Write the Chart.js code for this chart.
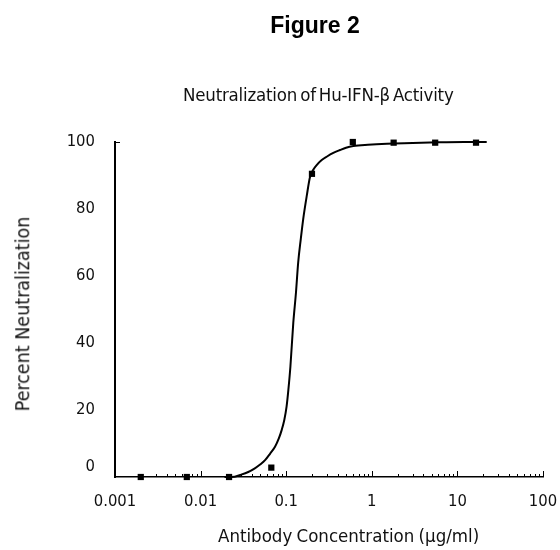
<!DOCTYPE html>
<html>
<head>
<meta charset="utf-8">
<script src="https://cdn.jsdelivr.net/npm/chart.js@4.4.0/dist/chart.umd.min.js"></script>
<style>
html,body{margin:0;padding:0;background:#fff;}
#wrap{position:relative;width:560px;height:550px;overflow:hidden;}
#c{position:absolute;left:0;top:0;}
.t{position:absolute;white-space:nowrap;color:#111;font-family:"DejaVu Sans Condensed","DejaVu Sans",sans-serif;}
#fig{left:215px;width:200px;top:14px;text-align:center;font:bold 23px "Liberation Sans",Arial,sans-serif;color:#000;line-height:23px;}
#title{left:183px;top:85px;font-size:18.5px;line-height:19px;word-spacing:-2px;letter-spacing:-0.2px;}
#ytitle{left:22.5px;top:313.5px;font-size:19.5px;line-height:19.5px;transform:translate(-50%,-50%) rotate(-90deg);}
#xtitle{left:218px;top:527px;font-size:18.5px;line-height:18px;word-spacing:-1px;}
</style>
</head>
<body>
<div id="wrap">
<canvas id="c" width="560" height="550"></canvas>
<div class="t" id="fig">Figure 2</div>
<div class="t" id="title">Neutralization of Hu-IFN-β Activity</div>
<div class="t" id="ytitle">Percent Neutralization</div>
<div class="t" id="xtitle">Antibody Concentration (µg/ml)</div>
</div>
<script>
// Measured data points
const concentrations = [0.002, 0.0069, 0.0215, 0.067, 0.2, 0.6, 1.8, 5.5, 16.5];
const neutralization = [0, 0, 0, 2.8, 90.5, 100, 99.8, 99.8, 99.8];

// Fitted curve
const fitX = [0.019, 0.025, 0.029, 0.036, 0.043, 0.05, 0.057, 0.065, 0.074, 0.082, 0.0885, 0.095, 0.101, 0.106, 0.112, 0.121, 0.13, 0.138, 0.148, 0.158, 0.174, 0.19, 0.207, 0.227, 0.26, 0.297, 0.36, 0.425, 0.5, 0.608, 0.9, 1.5, 3, 6, 12, 22];
const fitY = [0, 0.1, 0.6, 1.5, 2.6, 3.8, 5.1, 7, 9, 11.5, 14, 17, 21, 26, 33, 46, 55, 64, 71, 77, 84, 89.6, 91.7, 93.1, 94.6, 95.6, 96.8, 97.6, 98.3, 98.8, 99.2, 99.5, 99.7, 99.9, 100, 100];

const xTicks = [0.001, 0.01, 0.1, 1, 10, 100];
const xTickLabels = ['0.001', '0.01', '0.1', '1', '10', '100'];
const yTicks = [0, 20, 40, 60, 80, 100];
const yTickLabels = ['0', '20', '40', '60', '80', '100'];

const tickFont = {family: '"DejaVu Sans Condensed", "DejaVu Sans", sans-serif', size: 16.5};

const innerTicks = {
  id: 'innerTicks',
  afterDraw(chart) {
    const ctx = chart.ctx;
    const xs = chart.scales.x, ys = chart.scales.y;
    const bottom = chart.chartArea.bottom;
    ctx.save();
    ctx.strokeStyle = '#000';
    ctx.lineWidth = 1;
    ctx.beginPath();
    for (let d = -3; d <= 1; d++) {
      for (let k = 2; k <= 9; k++) {
        const px = Math.round(xs.getPixelForValue(k * Math.pow(10, d))) + 0.5;
        ctx.moveTo(px, bottom);
        ctx.lineTo(px, bottom - 3);
      }
    }
    for (const v of xTicks) {
      const px = Math.round(xs.getPixelForValue(v)) + 0.5;
      ctx.moveTo(px, bottom);
      ctx.lineTo(px, bottom - 6);
    }
    const ty = Math.round(ys.getPixelForValue(100)) + 0.5;
    ctx.moveTo(chart.chartArea.left, ty);
    ctx.lineTo(chart.chartArea.left + 5, ty);
    ctx.stroke();
    ctx.restore();
  }
};

new Chart(document.getElementById('c'), {
  type: 'scatter',
  data: {
    datasets: [
      {
        label: 'Data',
        data: concentrations.map((x, i) => ({x: x, y: neutralization[i]})),
        pointStyle: 'rect',
        pointRadius: 4.4,
        pointHoverRadius: 4.4,
        backgroundColor: '#000',
        borderColor: '#000',
        borderWidth: 0,
        showLine: false,
        clip: false
      },
      {
        label: 'Fit',
        data: fitX.map((x, i) => ({x: x, y: fitY[i]})),
        showLine: true,
        pointRadius: 0,
        borderColor: '#000',
        borderWidth: 2,
        cubicInterpolationMode: 'monotone',
        fill: false,
        clip: false
      }
    ]
  },
  options: {
    responsive: false,
    animation: false,
    layout: {padding: {left: 0, top: 142, right: 17, bottom: 0}},
    plugins: {legend: {display: false}, tooltip: {enabled: false}, title: {display: false}},
    scales: {
      x: {
        type: 'logarithmic',
        min: 0.001,
        max: 100,
        afterBuildTicks: (s) => { s.ticks = xTicks.map(v => ({value: v})); },
        afterFit: (s) => { s.height = 73; s.paddingRight = 0; s.paddingLeft = 0; },
        ticks: {
          callback: (v, i) => xTickLabels[i],
          font: tickFont,
          color: '#111',
          padding: 7,
          maxRotation: 0,
          autoSkip: false
        },
        grid: {display: false},
        border: {display: true, color: '#000', width: 1.5}
      },
      y: {
        type: 'linear',
        min: 0,
        max: 100,
        afterBuildTicks: (s) => { s.ticks = yTicks.map(v => ({value: v})); },
        afterFit: (s) => { s.width = 115; s.paddingTop = 0; s.paddingBottom = 0; },
        ticks: {
          callback: (v, i) => (i === 0 ? [yTickLabels[i], ''] : yTickLabels[i]),
          font: tickFont,
          color: '#111',
          padding: 12,
          autoSkip: false
        },
        grid: {display: false},
        border: {display: true, color: '#000', width: 2}
      }
    }
  },
  plugins: [innerTicks]
});
</script>
</body>
</html>
